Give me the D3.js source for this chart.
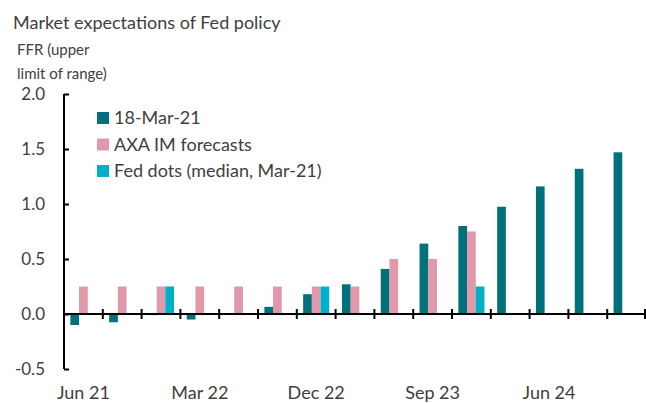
<!DOCTYPE html>
<html>
<head>
<meta charset="utf-8">
<script src="https://cdn.jsdelivr.net/npm/d3@7"></script>
<style>
  body { margin: 0; background: #fff; }
  text { font-family: Lato, "Open Sans", sans-serif; fill: #404040; }
</style>
</head>
<body>
<div id="chart"></div>
<script>
const quarters = ['Jun 21','Sep 21','Dec 21','Mar 22','Jun 22','Sep 22','Dec 22','Mar 23',
  'Jun 23','Sep 23','Dec 23','Mar 24','Jun 24','Sep 24','Dec 24'];
const shownLabels = ['Jun 21','Mar 22','Dec 22','Sep 23','Jun 24'];
const seriesNames = ['18-Mar-21', 'AXA IM forecasts', 'Fed dots (median, Mar-21)'];
const colors = ['#00707b', '#e198ab', '#00b0c8'];
// null = no bar
const market = [-0.10, -0.075, -0.01, -0.05, 0.0, 0.065, 0.18, 0.27, 0.41, 0.64, 0.80, 0.975, 1.16, 1.32, 1.47];
const axaIm  = [0.25, 0.25, 0.25, 0.25, 0.25, 0.25, 0.25, 0.25, 0.50, 0.50, 0.75, null, null, null, null];
const fedDots = [null, null, 0.25, null, null, null, 0.25, null, null, null, 0.25, null, null, null, null];
const yTicks = [-0.5, 0, 0.5, 1.0, 1.5, 2.0];

const width = 646, height = 403;
const svg = d3.select('#chart').append('svg').attr('width', width).attr('height', height);

const x = d3.scaleBand().domain(quarters).range([64, 646]);
const x1 = d3.scaleBand().domain(seriesNames).range([0, x.bandwidth()]).paddingOuter(0.73);
const y = d3.scaleLinear().domain([-0.5, 2.0]).range([369, 94]);

// title and axis label
svg.append('text').attr('x', 13).attr('y', 29).style('font-size', '18px').text('Market expectations of Fed policy');
svg.append('text').attr('x', 17).attr('y', 55).style('font-size', '15px').text('FFR (upper');
svg.append('text').attr('x', 17).attr('y', 79).style('font-size', '15px').text('limit of range)');

// bars
const allSeries = [market, axaIm, fedDots];
allSeries.forEach((vals, si) => {
  const data = quarters.map((q, i) => ({ q, v: vals[i] })).filter(d => d.v !== null);
  svg.append('g').selectAll('rect').data(data).enter().append('rect')
    .attr('x', d => x(d.q) + x1(seriesNames[si]))
    .attr('width', x1.bandwidth())
    .attr('y', d => y(Math.max(0, d.v)))
    .attr('height', d => Math.abs(y(d.v) - y(0)))
    .attr('fill', colors[si]);
});

// y axis
const yAxis = svg.append('g').attr('transform', 'translate(64,0)')
  .call(d3.axisRight(y).tickValues(yTicks).tickSize(5).tickFormat(''));
yAxis.select('.domain').attr('stroke', '#000').attr('stroke-width', 2).attr('d', `M0,${y(2)}V${y(-0.5)}`);
yAxis.selectAll('.tick line').attr('stroke', '#000').attr('stroke-width', 2);
svg.append('g').selectAll('text').data(yTicks).enter().append('text')
  .attr('x', 45).attr('y', d => y(d)).attr('dy', '0.35em').attr('text-anchor', 'end')
  .style('font-size', '17px').text(d => d.toFixed(1));

// x axis at zero
const xg = svg.append('g');
xg.append('line').attr('x1', 64).attr('x2', 646).attr('y1', y(0)).attr('y2', y(0))
  .attr('stroke', '#000').attr('stroke-width', 2);
xg.selectAll('line.tk').data(quarters.slice(1)).enter().append('line').attr('class', 'tk')
  .attr('x1', d => x(d)).attr('x2', d => x(d)).attr('y1', y(0) - 5).attr('y2', y(0) + 5)
  .attr('stroke', '#000').attr('stroke-width', 2);
xg.append('line').attr('x1', 645).attr('x2', 645).attr('y1', y(0) - 5).attr('y2', y(0) + 5)
  .attr('stroke', '#000').attr('stroke-width', 2);
xg.selectAll('text').data(shownLabels).enter().append('text')
  .attr('x', d => x(d) + x.bandwidth() / 2).attr('y', 399).attr('text-anchor', 'middle')
  .style('font-size', '18px').text(d => d);

// legend
const lg = svg.append('g').selectAll('g').data(seriesNames).enter().append('g')
  .attr('transform', (d, i) => `translate(97,${118 + i * 26.5})`);
lg.append('rect').attr('x', 0).attr('y', -6).attr('width', 12).attr('height', 12)
  .attr('fill', (d, i) => colors[i]);
lg.append('text').attr('x', 17).attr('dy', '0.36em').style('font-size', '18px').text(d => d);
</script>
</body>
</html>
